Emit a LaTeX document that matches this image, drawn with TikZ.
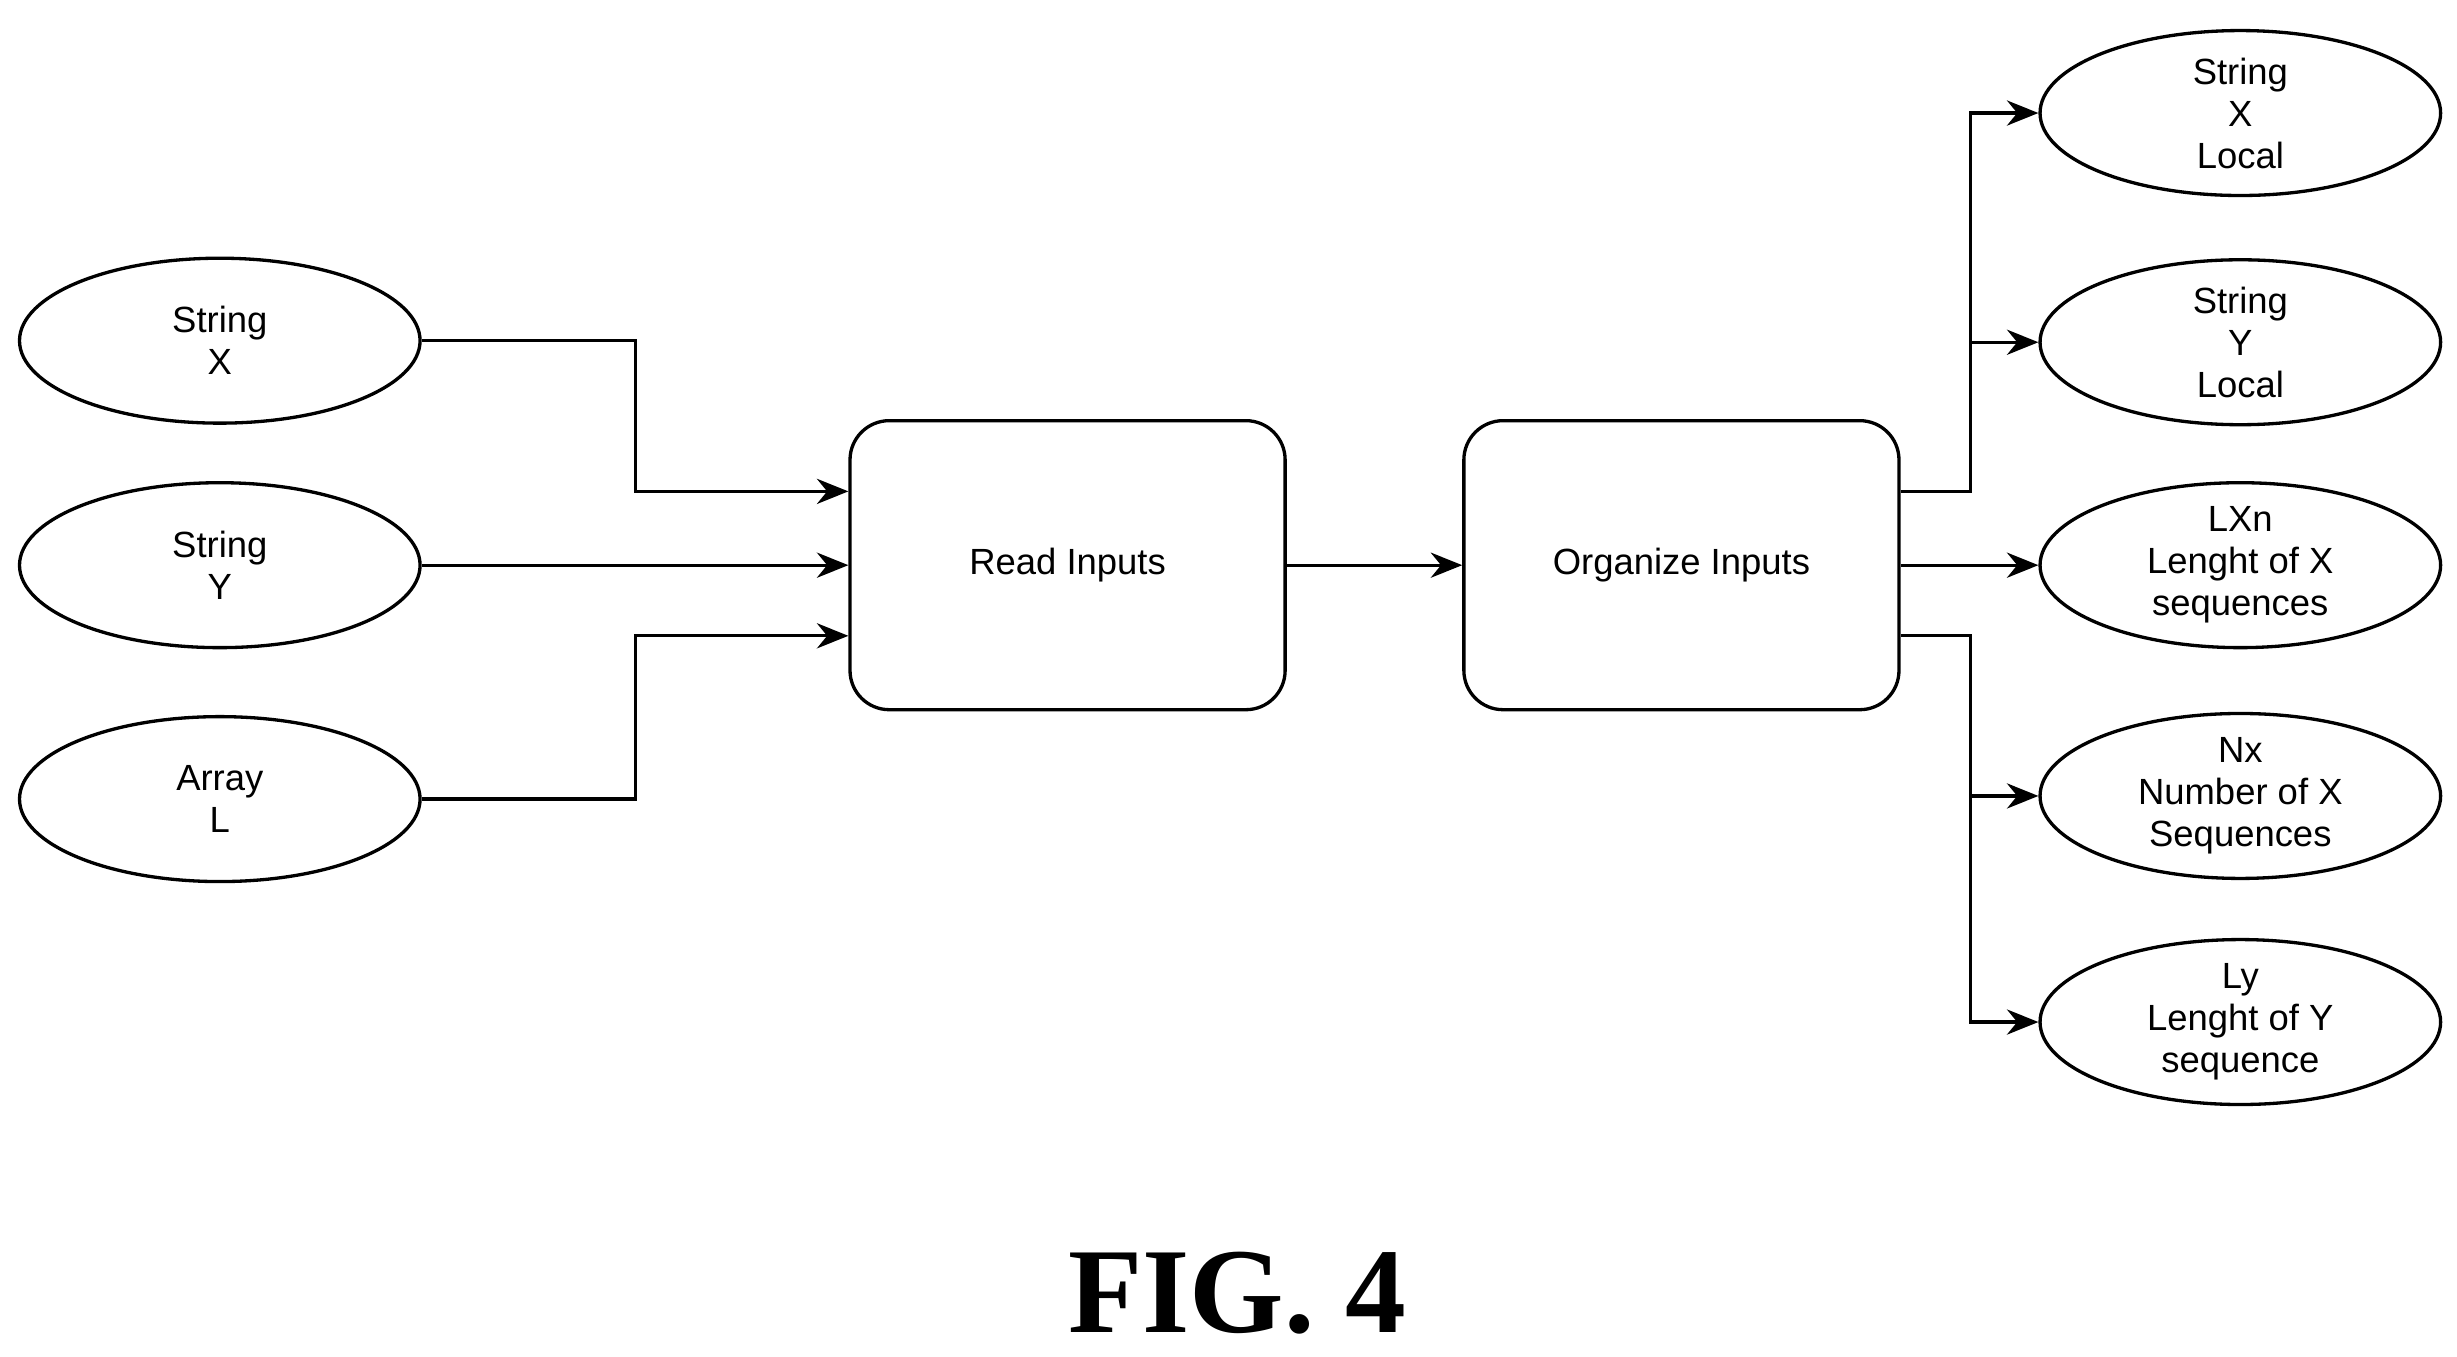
\documentclass[tikz,border=0pt]{standalone}
\usepackage{fontspec}
\setmainfont{Liberation Sans}
\newfontfamily\figfont{Liberation Serif}
\usetikzlibrary{arrows.meta,shapes.geometric,positioning}
\tikzset{%
       oval/.style = { ellipse, draw, semithick, minimum width=2.55cm, minimum height=1.05cm, inner sep=0pt, align=center, font=\fontsize{6.6}{7.6}\selectfont },
      block/.style = { draw, semithick, rounded corners=2.5mm, minimum width=2.77cm, minimum height=1.84cm, font=\fontsize{6.6}{7.6}\selectfont },
       wire/.style = { semithick, -{Stealth[length=2mm,width=1.6mm]} }
}
\begin{document}
\begin{tikzpicture}[x=0.01cm,y=-0.01cm]
\useasboundingbox (0,0) rectangle (1565,864);
% inputs
\node[oval] (sx) at (140,217) {String\\X};
\node[oval] (sy) at (140,360) {String\\Y};
\node[oval] (al) at (140,509) {Array\\L};
% blocks
\node[block] (read) at (680,360) {Read Inputs};
\node[block] (org) at (1071,360) {Organize Inputs};
% outputs
\node[oval] (ox) at (1427,72) {String\\X\\Local};
\node[oval] (oy) at (1427,218) {String\\Y\\Local};
\node[oval] (lx) at (1427,360) {LXn\\Lenght of X\\sequences};
\node[oval] (nx) at (1427,507) {Nx\\Number of X\\Sequences};
\node[oval] (ly) at (1427,651) {Ly\\Lenght of Y\\sequence};
% connectors
\draw[wire] (sx.east) -| (405,313) -- (read.west |- 0,313);
\draw[wire] (sy.east) -- (read.west);
\draw[wire] (al.east) -| (405,405) -- (read.west |- 0,405);
\draw[wire] (read.east) -- (org.west);
\draw[wire] (org.east |- 0,313) -| (1255,72) -- (ox.west);
\draw[wire] (1255,218) -- (oy.west);
\draw[wire] (org.east) -- (lx.west);
\draw[wire] (org.east |- 0,405) -| (1255,651) -- (ly.west);
\draw[wire] (1255,507) -- (nx.west);
\node[font=\figfont\fontsize{22}{26}\selectfont\bfseries] (cap) at (788,824) {FIG. 4};
\end{tikzpicture}
\end{document}
